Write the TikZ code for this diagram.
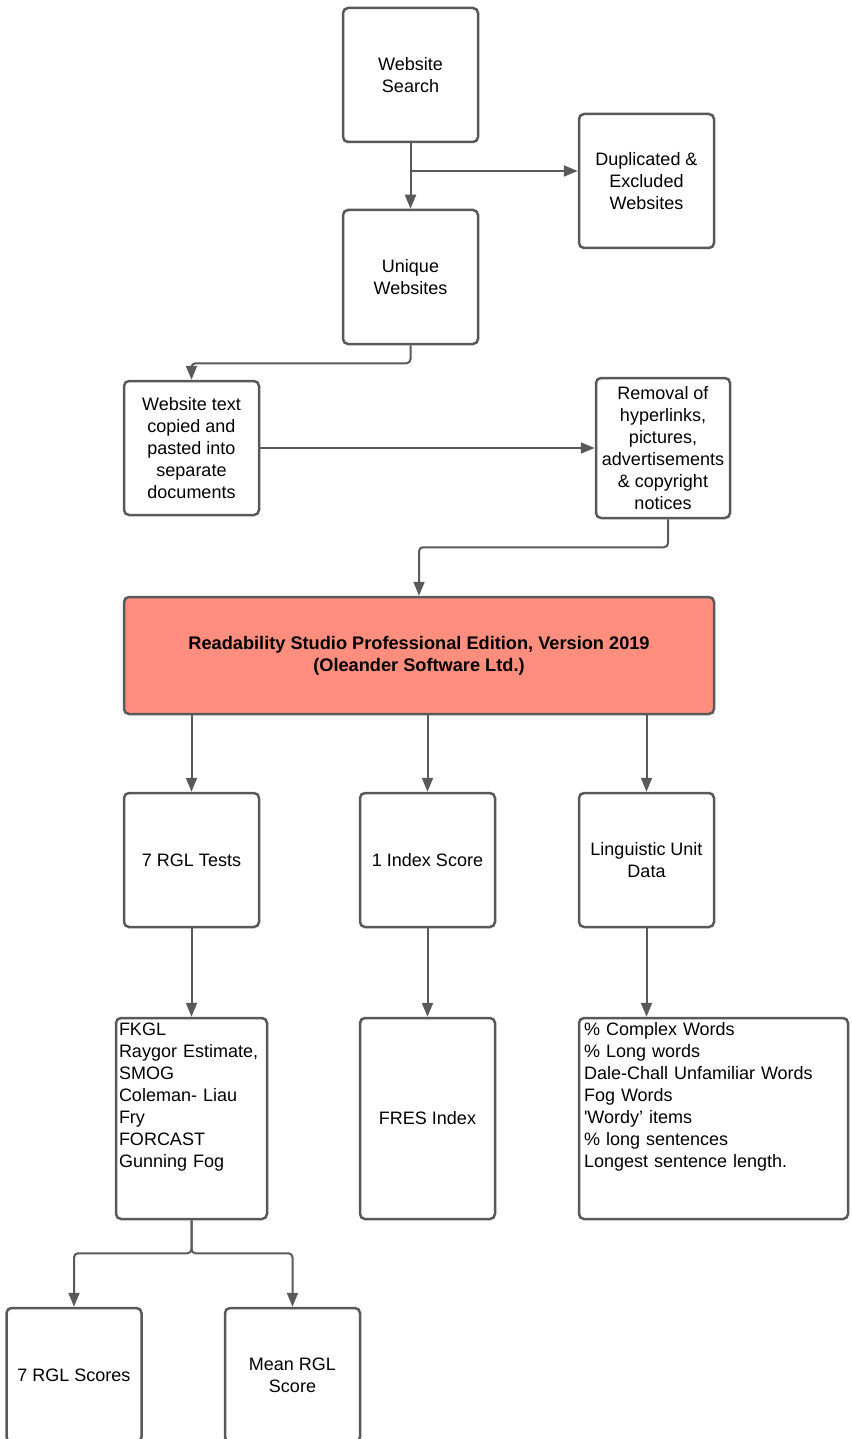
\documentclass[tikz,border=0pt]{standalone}
\usepackage{fontspec}
\setmainfont{Liberation Sans}
\usepackage{tikz}
\usetikzlibrary{arrows.meta}
\definecolor{trait}{HTML}{595959}
\definecolor{saumon}{HTML}{FF8E7E}

\begin{document}
\begin{tikzpicture}[x=1pt,y=-1pt,
	boite/.style={draw=trait,line width=2.5pt,rounded corners=5pt,minimum width=135pt,minimum height=134pt,align=center,inner sep=2pt,font=\fontsize{18}{22}\selectfont},
	liste/.style={boite,align=left,inner ysep=3pt,text height=14pt,text depth=181pt},
	lien/.style={draw=trait,line width=2pt,rounded corners=4pt,-{Triangle[length=14pt,width=11pt]}}]
	%
	% Cadre de la page
	\useasboundingbox (0,0) rectangle (851,1439);
	\clip (0,0) rectangle (851,1439);
	%
	% Boites
	\node[boite] (search) at (410.5,75) {Website\\Search};
	\node[boite] (dup) at (646.5,181) {Duplicated \&\\Excluded\\Websites};
	\node[boite] (unique) at (410.5,277) {Unique\\Websites};
	\node[boite] (copy) at (191.5,448) {Website text\\copied and\\pasted into\\separate\\documents};
	\node[boite,minimum width=134pt,minimum height=140pt] (removal) at (663,448) {Removal of\\hyperlinks,\\pictures,\\advertisements\\\& copyright\\notices};
	\node[boite,fill=saumon,minimum width=590pt,minimum height=117pt,font=\fontsize{18.2}{22}\selectfont\bfseries] (studio) at (419,655.5) {Readability Studio Professional Edition, Version 2019\\(Oleander Software Ltd.)};
	\node[boite] (tests) at (191.5,860) {7 RGL Tests};
	\node[boite] (index) at (427.5,860) {1 Index Score};
	\node[boite] (ling) at (646.5,860) {Linguistic Unit\\Data};
	\node[liste,inner xsep=3pt,text width=145pt] (fkgl) at (191.5,1118.5) {FKGL\\Raygor Estimate,\\SMOG\\Coleman- Liau\\Fry\\FORCAST\\Gunning Fog};
	\node[boite,minimum height=201pt] (fres) at (427.5,1118.5) {FRES Index};
	\node[liste,inner xsep=5pt,text width=259pt] (lingdata) at (713.5,1118.5) {\% Complex Words\\\% Long words\\Dale-Chall Unfamiliar Words\\Fog Words\\\textquotesingle Wordy' items\\\% long sentences\\Longest sentence length.};
	\node[boite] (scores) at (74,1375) {7 RGL Scores};
	\node[boite] (mean) at (292.5,1375) {Mean RGL\\Score};
	%
	% Liens
	\coordinate (split) at (410.5,171);
	\draw[lien] (search) -- (unique);
	\draw[lien] (split) -- (split -| dup.west);
	\draw[lien] (unique.south) -- ++(0,18) -| (copy.north);
	\draw[lien] (copy) -- (removal);
	\draw[lien] ([xshift=5pt]removal.south) -- ++(0,28) -| (studio.north);
	\draw[lien] (tests.north |- studio.south) -- (tests);
	\draw[lien] (index.north |- studio.south) -- (index);
	\draw[lien] (ling.north |- studio.south) -- (ling);
	\draw[lien] (tests) -- (fkgl);
	\draw[lien] (index) -- (fres);
	\draw[lien] (ling.south) -- (ling.south |- lingdata.north);
	\draw[lien] (fkgl.south) -- ++(0,33) -| (scores.north);
	\draw[lien] (fkgl.south) -- ++(0,33) -| (mean.north);
\end{tikzpicture}
\end{document}
